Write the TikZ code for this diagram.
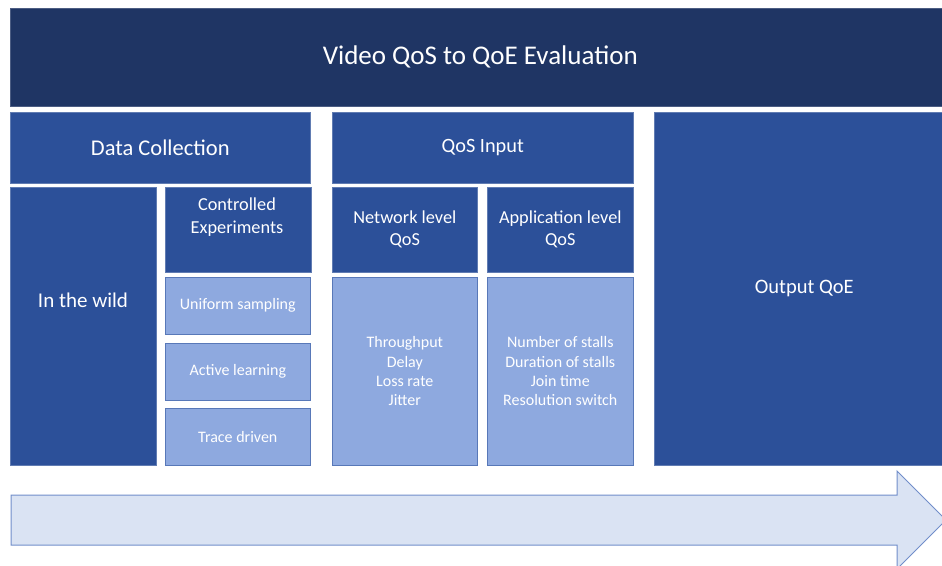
\documentclass[tikz,border=0pt]{standalone}
\usepackage{fontspec}
\setmainfont{Carlito}
\usetikzlibrary{positioning}
\definecolor{navy}{HTML}{1F3564}
\definecolor{midblue}{HTML}{2C5099}
\definecolor{lightblue}{HTML}{8EA9DF}
\definecolor{paleblue}{HTML}{DAE3F3}
\begin{document}
\begin{tikzpicture}[x=1pt, y=-1pt,
    midbox/.style={fill=midblue, draw=midblue!75!white, line width=0.6pt, anchor=north west, inner sep=0pt, align=center, text=white, font=\fontsize{18.3}{22}\selectfont},
    litebox/.style={fill=lightblue, draw=midblue!55!lightblue, line width=0.6pt, anchor=north west, inner sep=0pt, align=center, text=white, font=\fontsize{16}{19.4}\selectfont},
    lbl/.style={text=white, align=center, inner sep=0pt}
  ]
    \useasboundingbox (0,0) rectangle (942,565);
    \clip (0,0) rectangle (942,565);
    % header
    \node[midbox, fill=navy, draw=navy!80!white, minimum width=940, minimum height=98, font=\fontsize{27}{32}\selectfont] (title) at (10,8) {Video QoS to QoE Evaluation};
    % three columns
    \node[midbox, minimum width=300, minimum height=71, font=\fontsize{22.5}{26}\selectfont] (collect) at (10,112) {Data Collection};
    \node[midbox, minimum width=301, minimum height=71, font=\fontsize{20.3}{24}\selectfont] (qosin) at (332,112) {QoS Input};
    \node[midbox, minimum width=300, minimum height=353, font=\fontsize{20.5}{24}\selectfont] (qoe) at (654,112) {Output QoE};
    % data collection
    \node[midbox, minimum width=146, minimum height=278] (wild) at (10,187) {};
    \node[lbl, font=\fontsize{21}{25}\selectfont] (wildtxt) at (83,300) {In the wild};
    \node[midbox, minimum width=146, minimum height=85] (ctrl) at (165,187) {};
    \node[lbl, font=\fontsize{18.3}{23}\selectfont] (ctrltxt) at (237,217) {Controlled\\Experiments};
    \node[litebox, minimum width=145, minimum height=57] (uniform) at (165,277) {Uniform sampling};
    \node[litebox, minimum width=145, minimum height=57] (active) at (165,343) {Active learning};
    \node[litebox, minimum width=145, minimum height=57] (trace) at (165,408) {Trace driven};
    % qos input
    \node[midbox, minimum width=145, minimum height=85] (netqos) at (332,187) {Network level\\QoS};
    \node[midbox, minimum width=146, minimum height=85] (appqos) at (487,187) {Application level\\QoS};
    \node[litebox, minimum width=145, minimum height=188] (netlist) at (332,277) {Throughput\\Delay\\Loss rate\\Jitter};
    \node[litebox, minimum width=146, minimum height=188] (applist) at (487,277) {Number of stalls\\Duration of stalls\\Join time\\Resolution switch};
    % progress arrow
    \draw[fill=paleblue, draw=lightblue!70!midblue, line width=1pt]
      (11,495) -- (897,495) -- (897,471) -- (946,520) -- (897,569) -- (897,545) -- (11,545) -- cycle;
\end{tikzpicture}
\end{document}
